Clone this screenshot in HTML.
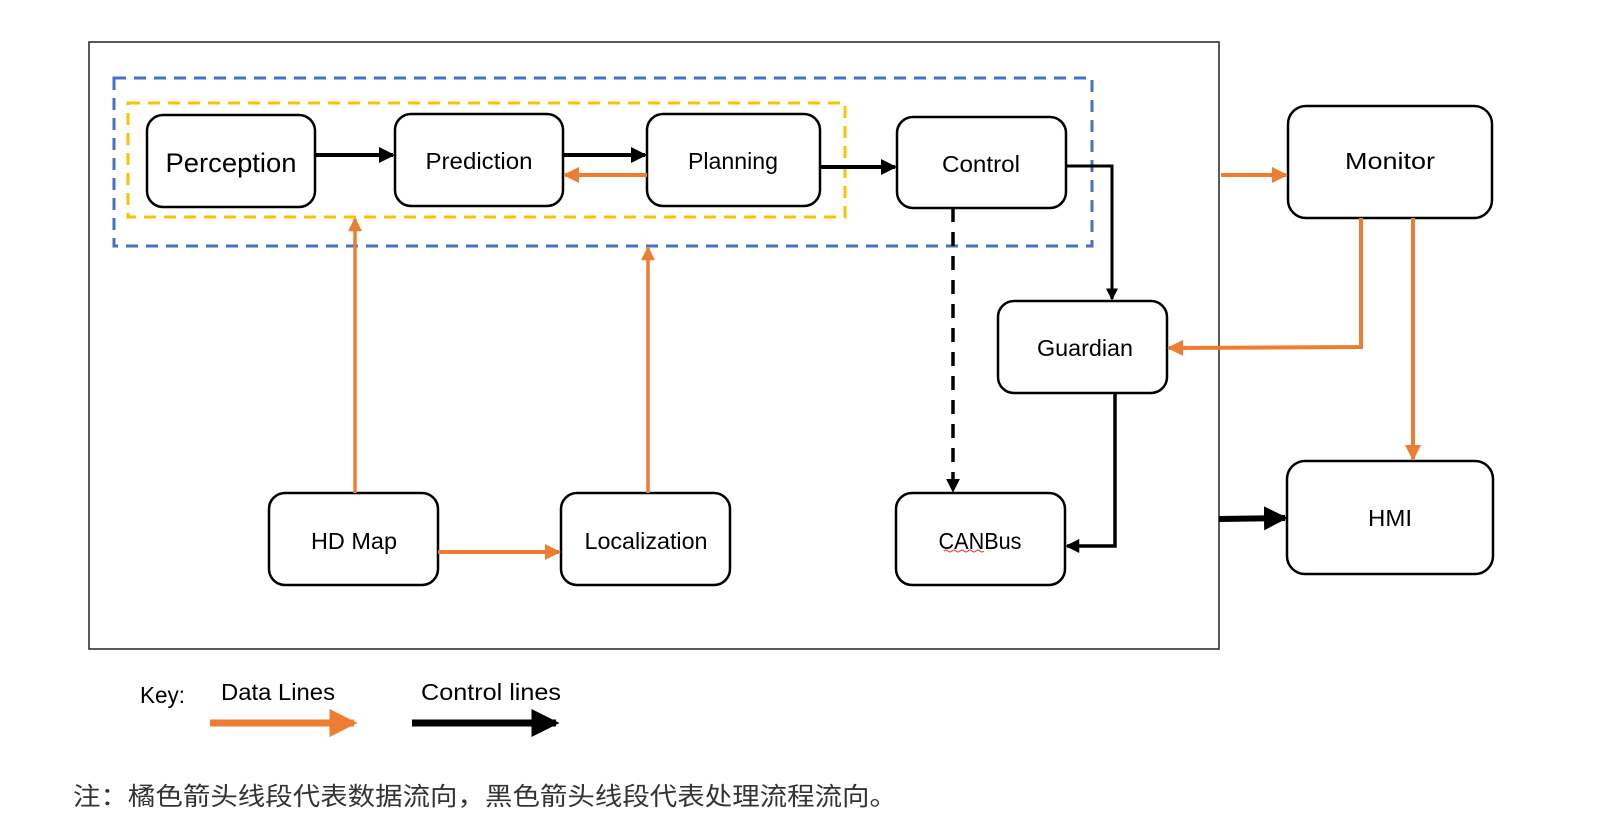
<!DOCTYPE html>
<html><head><meta charset="utf-8"><style>
html,body{margin:0;padding:0;background:#fff;width:1620px;height:830px;overflow:hidden}
text{font-family:"Liberation Sans","Noto Sans CJK SC",sans-serif;fill:#000}
</style></head><body>
<svg width="1620" height="830" viewBox="0 0 1620 830" xmlns="http://www.w3.org/2000/svg">
<defs>
<marker id="ab" markerWidth="4" markerHeight="4" refX="3.5" refY="2" orient="auto" markerUnits="strokeWidth"><path d="M0,0 L4,2 L0,4z" fill="#000"/></marker>
<marker id="ao" markerWidth="4" markerHeight="4" refX="3.5" refY="2" orient="auto" markerUnits="strokeWidth"><path d="M0,0 L4,2 L0,4z" fill="#ED7D31"/></marker>
</defs>
<rect x="89" y="42" width="1130" height="607" fill="none" stroke="#222" stroke-width="1.5"/>
<rect x="114" y="78" width="978" height="168" fill="none" stroke="#4472C4" stroke-width="3" stroke-dasharray="12,8"/>
<rect x="128" y="103" width="717" height="114" fill="none" stroke="#FFC000" stroke-width="3" stroke-dasharray="12,8"/>
<g fill="#fff" stroke="#000" stroke-width="2.5">
<rect x="147" y="115" width="168" height="92" rx="16"/>
<rect x="395" y="114" width="168" height="92" rx="16"/>
<rect x="647" y="114" width="173" height="92" rx="16"/>
<rect x="897" y="117" width="169" height="91" rx="16"/>
<rect x="998" y="301" width="169" height="92" rx="16"/>
<rect x="269" y="493" width="169" height="92" rx="16"/>
<rect x="561" y="493" width="169" height="92" rx="16"/>
<rect x="896" y="493" width="169" height="92" rx="16"/>
<rect x="1288" y="106" width="204" height="112" rx="18"/>
<rect x="1287" y="461" width="206" height="113" rx="18"/>
</g>
<g font-size="23" text-anchor="middle" dominant-baseline="central">
<text x="231" y="163" font-size="27" textLength="131" lengthAdjust="spacingAndGlyphs">Perception</text>
<text x="479" y="161" textLength="107" lengthAdjust="spacingAndGlyphs">Prediction</text>
<text x="733" y="161" textLength="90" lengthAdjust="spacingAndGlyphs">Planning</text>
<text x="981" y="164" textLength="78" lengthAdjust="spacingAndGlyphs">Control</text>
<text x="1085" y="348" textLength="96" lengthAdjust="spacingAndGlyphs">Guardian</text>
<text x="354" y="541" textLength="86" lengthAdjust="spacingAndGlyphs">HD Map</text>
<text x="646" y="541" textLength="123" lengthAdjust="spacingAndGlyphs">Localization</text>
<text x="980" y="541" textLength="83" lengthAdjust="spacingAndGlyphs">CANBus</text>
<text x="1390" y="161" textLength="90" lengthAdjust="spacingAndGlyphs">Monitor</text>
<text x="1390" y="518" textLength="44" lengthAdjust="spacingAndGlyphs">HMI</text>
</g>
<path d="M944,551 q2,-2 4,0 t4,0 t4,0 t4,0 t4,0 t4,0 t4,0 t4,0 t4,0 t4,0" fill="none" stroke="#e33" stroke-width="1"/>
<!-- black arrows -->
<g stroke="#000" fill="none">
<line x1="315" y1="155" x2="393" y2="155" stroke-width="4" marker-end="url(#ab)"/>
<line x1="563" y1="155" x2="645" y2="155" stroke-width="4" marker-end="url(#ab)"/>
<line x1="820" y1="167" x2="895" y2="167" stroke-width="4" marker-end="url(#ab)"/>
<polyline points="1066,166 1112,166 1112,299" stroke-width="3" marker-end="url(#ab)"/>
<line x1="953" y1="208" x2="953" y2="491" stroke-width="3.5" stroke-dasharray="14,10" marker-end="url(#ab)"/>
<polyline points="1115,393 1115,546 1067,546" stroke-width="3.5" marker-end="url(#ab)"/>
<line x1="1219" y1="519" x2="1285" y2="518" stroke-width="6" marker-end="url(#ab)"/>
<line x1="412" y1="723" x2="556" y2="723" stroke-width="7" marker-end="url(#ab)"/>
</g>
<!-- orange arrows -->
<g stroke="#ED7D31" fill="none">
<line x1="647" y1="175" x2="565" y2="175" stroke-width="4" marker-end="url(#ao)"/>
<line x1="355" y1="493" x2="355" y2="219" stroke-width="3.5" marker-end="url(#ao)"/>
<line x1="648" y1="493" x2="648" y2="248" stroke-width="3.5" marker-end="url(#ao)"/>
<line x1="438" y1="552" x2="559" y2="552" stroke-width="4" marker-end="url(#ao)"/>
<line x1="1221" y1="175" x2="1286" y2="175" stroke-width="4" marker-end="url(#ao)"/>
<polyline points="1361,218 1361,347 1169,348" stroke-width="4" marker-end="url(#ao)"/>
<line x1="1413" y1="218" x2="1413" y2="459" stroke-width="4" marker-end="url(#ao)"/>
<line x1="210" y1="723" x2="354" y2="723" stroke-width="7" marker-end="url(#ao)"/>
</g>
<g font-size="23">
<text x="140" y="703" textLength="45" lengthAdjust="spacingAndGlyphs">Key:</text>
<text x="221" y="700" textLength="114" lengthAdjust="spacingAndGlyphs">Data Lines</text>
<text x="421" y="700" textLength="140" lengthAdjust="spacingAndGlyphs">Control lines</text>
</g>
<text x="73" y="805" font-size="25" fill="#333" style="fill:#333" textLength="824" lengthAdjust="spacingAndGlyphs">注：橘色箭头线段代表数据流向，黑色箭头线段代表处理流程流向。</text>
</svg>
</body></html>
